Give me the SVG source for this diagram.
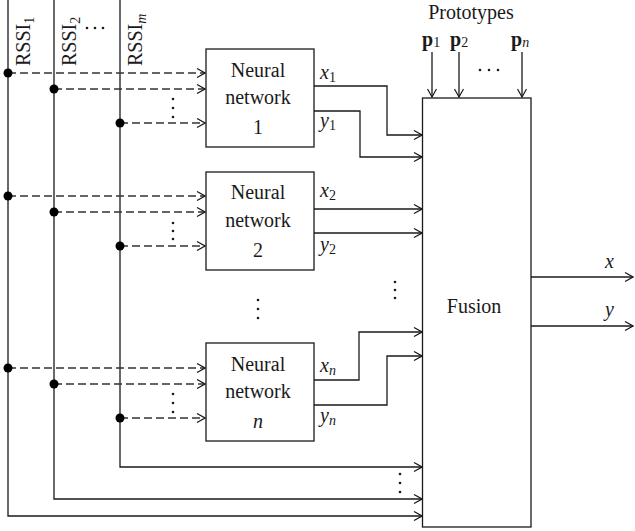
<svg xmlns="http://www.w3.org/2000/svg" width="635" height="531" viewBox="0 0 635 531">
<style>
text{font-family:"Liberation Serif","Times New Roman",serif;fill:#1a1a1a;font-size:20px}
.it{font-style:italic}
.b{font-weight:bold}
.sub{font-size:14px}
.ln{fill:none;stroke:#1a1a1a;stroke-width:1.3}
.dash{fill:none;stroke:#333;stroke-width:1.3;stroke-dasharray:8,4}
.box{fill:#fff;stroke:#1a1a1a;stroke-width:1.3}
.dot{fill:#000}
.sd{fill:#1a1a1a}
</style>
<defs>
<marker id="ah" viewBox="0 0 10 10" refX="9.5" refY="5" markerWidth="10" markerHeight="10" markerUnits="userSpaceOnUse" orient="auto">
<path d="M1.5,0.5 L9.5,5 L1.5,9.5" fill="none" stroke="#1a1a1a" stroke-width="1.2"/>
</marker>
</defs>

<g id="connectors">
<path class="ln" d="M8,0 V516 H422" marker-end="url(#ah)"/>
<path class="ln" d="M54,0 V499 H422" marker-end="url(#ah)"/>
<path class="ln" d="M120,0 V467 H422" marker-end="url(#ah)"/>
<path class="dash" d="M8,73 H205" marker-end="url(#ah)"/>
<path class="dash" d="M54,89 H205" marker-end="url(#ah)"/>
<path class="dash" d="M120,123 H205" marker-end="url(#ah)"/>
<path class="dash" d="M8,196 H205" marker-end="url(#ah)"/>
<path class="dash" d="M54,212 H205" marker-end="url(#ah)"/>
<path class="dash" d="M120,246 H205" marker-end="url(#ah)"/>
<path class="dash" d="M8,368 H205" marker-end="url(#ah)"/>
<path class="dash" d="M54,384 H205" marker-end="url(#ah)"/>
<path class="dash" d="M120,418 H205" marker-end="url(#ah)"/>
<path class="ln" d="M314,86 H387 V135 H422" marker-end="url(#ah)"/>
<path class="ln" d="M314,111 H360 V157 H422" marker-end="url(#ah)"/>
<path class="ln" d="M314,209 H422" marker-end="url(#ah)"/>
<path class="ln" d="M314,233 H422" marker-end="url(#ah)"/>
<path class="ln" d="M314,380 H359 V332 H422" marker-end="url(#ah)"/>
<path class="ln" d="M314,405 H387 V356 H422" marker-end="url(#ah)"/>
<path class="ln" d="M432,52 V97" marker-end="url(#ah)"/>
<path class="ln" d="M459,52 V97" marker-end="url(#ah)"/>
<path class="ln" d="M522,52 V97" marker-end="url(#ah)"/>
<path class="ln" d="M531,277 H633" marker-end="url(#ah)"/>
<path class="ln" d="M531,326 H633" marker-end="url(#ah)"/>
<circle class="dot" cx="8" cy="73" r="4.5"/>
<circle class="dot" cx="54" cy="89" r="4.5"/>
<circle class="dot" cx="120" cy="123" r="4.5"/>
<circle class="dot" cx="8" cy="196" r="4.5"/>
<circle class="dot" cx="54" cy="212" r="4.5"/>
<circle class="dot" cx="120" cy="246" r="4.5"/>
<circle class="dot" cx="8" cy="368" r="4.5"/>
<circle class="dot" cx="54" cy="384" r="4.5"/>
<circle class="dot" cx="120" cy="418" r="4.5"/>
</g>

<g id="ellipses">
<circle class="sd" cx="173" cy="99" r="1.3"/><circle class="sd" cx="173" cy="108" r="1.3"/><circle class="sd" cx="173" cy="117" r="1.3"/>
<circle class="sd" cx="173" cy="223" r="1.3"/><circle class="sd" cx="173" cy="231" r="1.3"/><circle class="sd" cx="173" cy="239" r="1.3"/>
<circle class="sd" cx="173" cy="394" r="1.3"/><circle class="sd" cx="173" cy="403" r="1.3"/><circle class="sd" cx="173" cy="412" r="1.3"/>
<circle class="sd" cx="258" cy="300" r="1.3"/><circle class="sd" cx="258" cy="309" r="1.3"/><circle class="sd" cx="258" cy="318" r="1.3"/>
<circle class="sd" cx="395" cy="282" r="1.3"/><circle class="sd" cx="395" cy="290" r="1.3"/><circle class="sd" cx="395" cy="298" r="1.3"/>
<circle class="sd" cx="400" cy="474" r="1.3"/><circle class="sd" cx="400" cy="483" r="1.3"/><circle class="sd" cx="400" cy="492" r="1.3"/>
<circle class="sd" cx="87" cy="28" r="1.3"/><circle class="sd" cx="95" cy="28" r="1.3"/><circle class="sd" cx="103" cy="28" r="1.3"/>
<circle class="sd" cx="480" cy="70" r="1.3"/><circle class="sd" cx="489" cy="70" r="1.3"/><circle class="sd" cx="498" cy="70" r="1.3"/>
</g>

<g id="rssi-labels">
<text transform="translate(30,66) rotate(-90)">RSSI<tspan class="sub" dy="4">1</tspan></text>
<text transform="translate(76,66) rotate(-90)">RSSI<tspan class="sub" dy="4">2</tspan></text>
<text transform="translate(142,66) rotate(-90)">RSSI<tspan class="sub it" dy="4">m</tspan></text>
</g>

<g id="nn1">
<rect class="box" x="206" y="49" width="108" height="98"/>
<text x="258" y="77" text-anchor="middle">Neural</text>
<text x="258" y="104" text-anchor="middle">network</text>
<text x="258" y="134" text-anchor="middle">1</text>
<text x="320" y="79" class="it">x<tspan class="sub" style="font-style:normal" dy="3">1</tspan></text>
<text x="320" y="127" class="it">y<tspan class="sub" style="font-style:normal" dy="3">1</tspan></text>
</g>

<g id="nn2">
<rect class="box" x="206" y="172" width="108" height="98"/>
<text x="258" y="199" text-anchor="middle">Neural</text>
<text x="258" y="227" text-anchor="middle">network</text>
<text x="258" y="257" text-anchor="middle">2</text>
<text x="320" y="197" class="it">x<tspan class="sub" style="font-style:normal" dy="3">2</tspan></text>
<text x="320" y="251" class="it">y<tspan class="sub" style="font-style:normal" dy="3">2</tspan></text>
</g>

<g id="nnn">
<rect class="box" x="206" y="343" width="108" height="98"/>
<text x="258" y="371" text-anchor="middle">Neural</text>
<text x="258" y="398" text-anchor="middle">network</text>
<text x="258" y="428" text-anchor="middle" class="it">n</text>
<text x="320" y="372" class="it">x<tspan class="sub" dy="3">n</tspan></text>
<text x="320" y="422" class="it">y<tspan class="sub" dy="3">n</tspan></text>
</g>

<g id="fusion">
<rect class="box" x="422.5" y="98" width="108.5" height="429"/>
<text x="474" y="313" text-anchor="middle">Fusion</text>
</g>

<g id="prototypes">
<text x="471" y="19" text-anchor="middle">Prototypes</text>
<text x="422" y="46" class="b">p<tspan class="sub" style="font-weight:normal" dy="1">1</tspan></text>
<text x="450" y="46" class="b">p<tspan class="sub" style="font-weight:normal" dy="1">2</tspan></text>
<text x="511" y="46" class="b">p<tspan class="sub it" style="font-weight:normal" dy="1">n</tspan></text>
</g>

<g id="output-labels">
<text x="605" y="268" class="it">x</text>
<text x="605" y="316" class="it">y</text>
</g>
</svg>
